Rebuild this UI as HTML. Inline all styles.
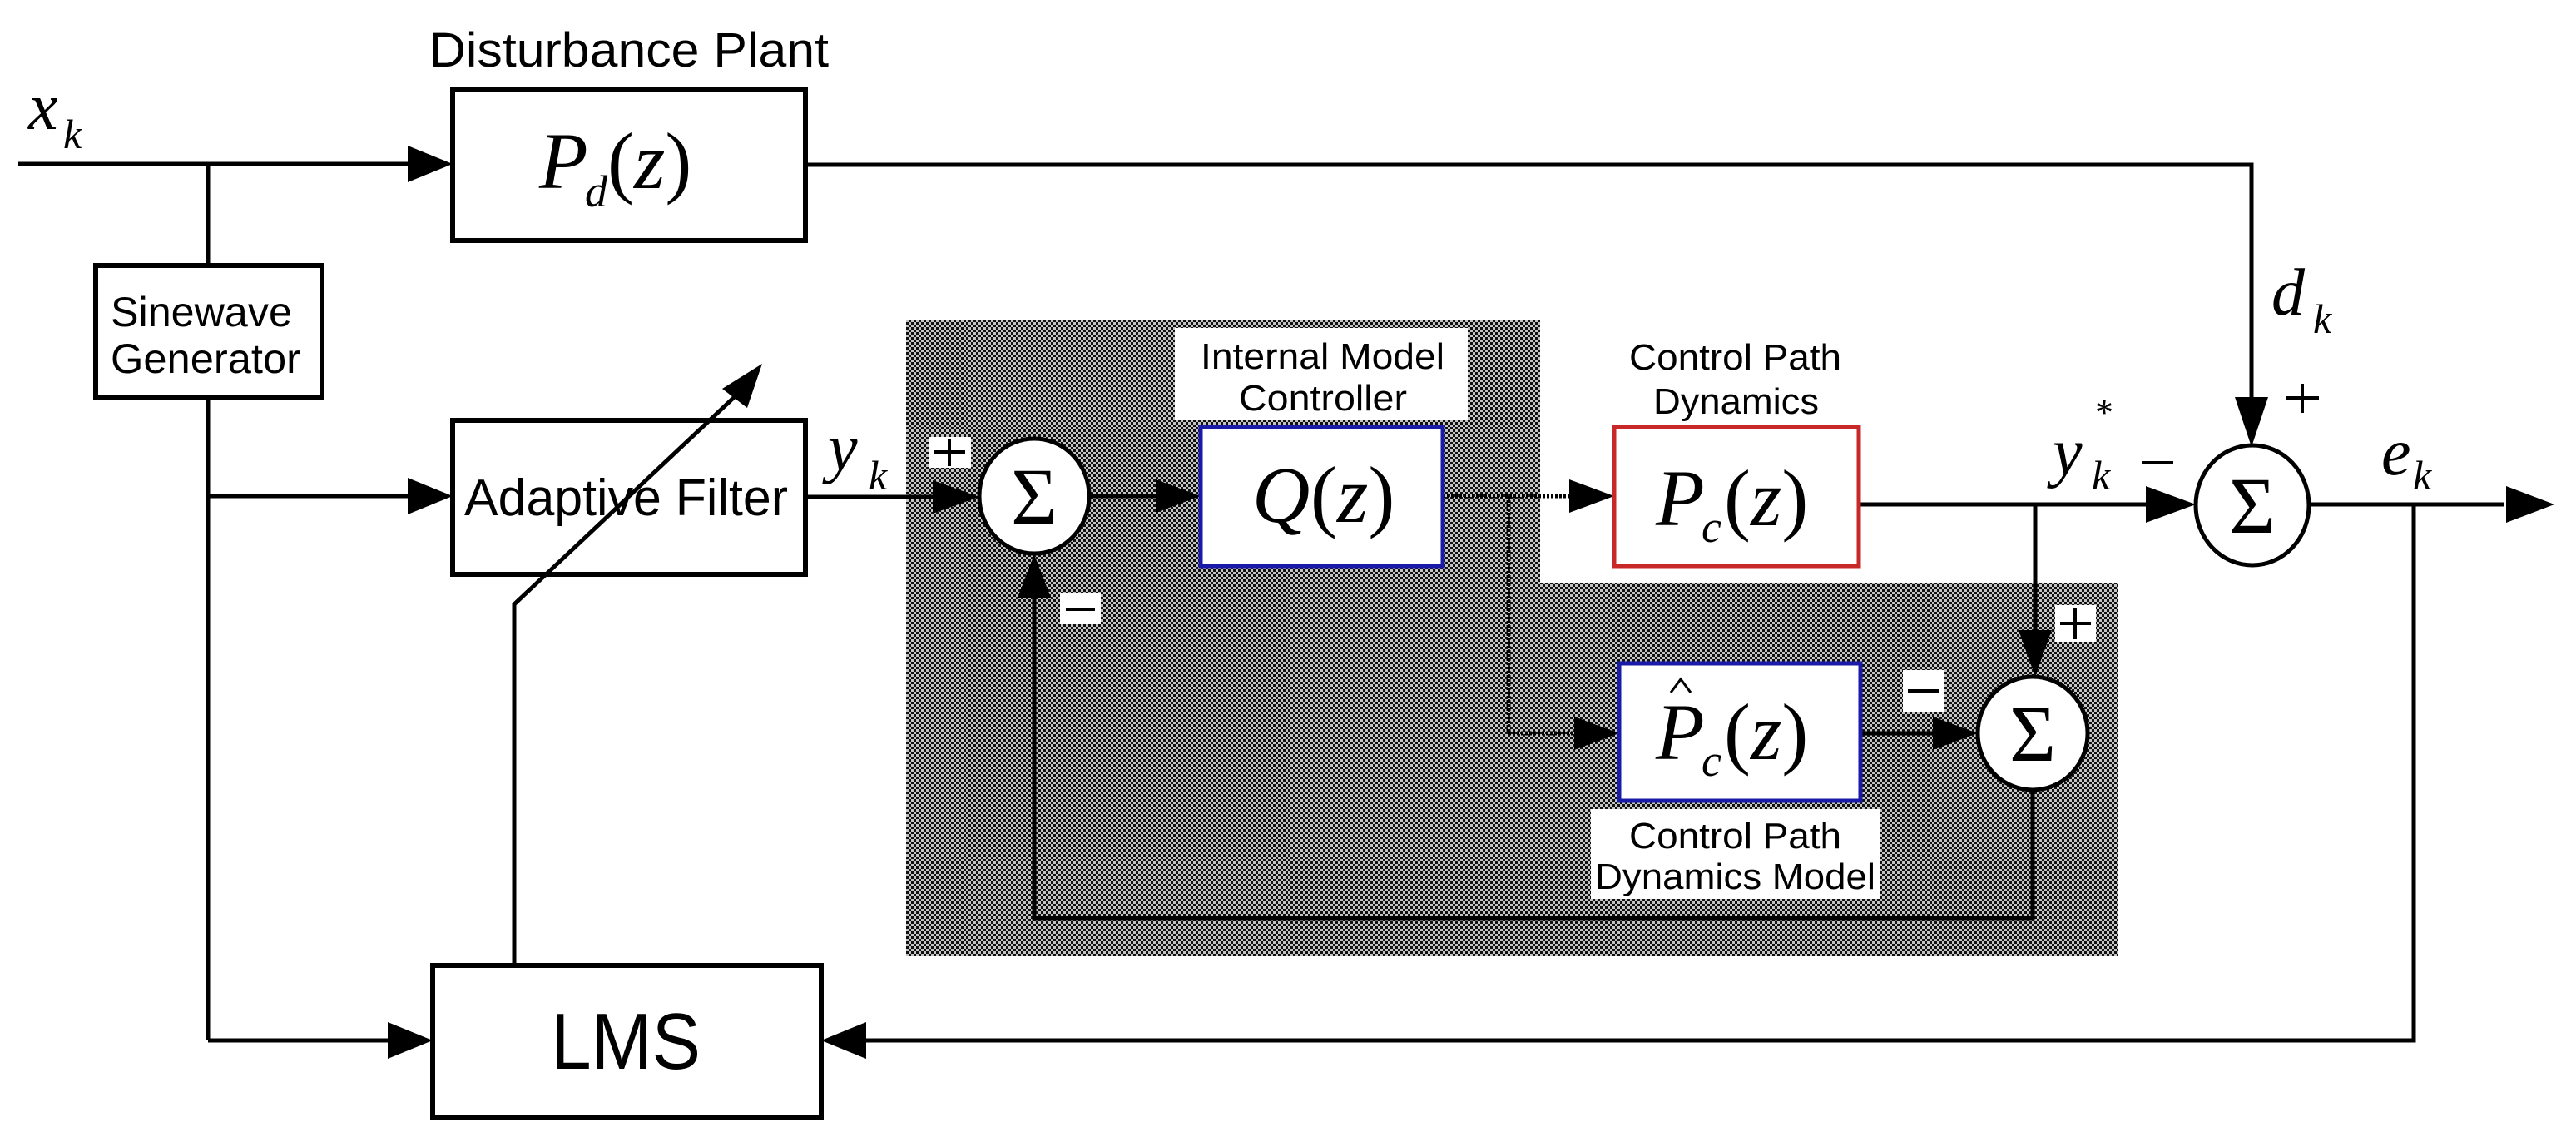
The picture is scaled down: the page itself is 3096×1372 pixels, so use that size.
<!DOCTYPE html>
<html><head><meta charset="utf-8"><style>
html,body{margin:0;padding:0;background:#fff}
svg{display:block}
.s{font-family:"Liberation Sans",sans-serif}
.m{font-family:"Liberation Serif",serif;font-style:italic}
.r{font-family:"Liberation Serif",serif}
</style></head><body>
<svg width="3096" height="1372" viewBox="0 0 3096 1372" xmlns="http://www.w3.org/2000/svg">
<defs>
<pattern id="ck" width="6" height="6" patternUnits="userSpaceOnUse">
<rect width="6" height="6" fill="#c4c4c4"/>
<rect width="3" height="3" fill="#111"/>
<rect x="3" y="3" width="3" height="3" fill="#111"/>
</pattern>
</defs>
<polygon points="1089,384 1851,384 1851,700 2545,700 2545,1148 1089,1148" fill="url(#ck)"/>

<g stroke="#000" stroke-width="5" fill="none">
<line x1="22" y1="197" x2="500" y2="197"/>
<line x1="250" y1="197" x2="250" y2="318"/>
<line x1="250" y1="478" x2="250" y2="1250"/>
<line x1="250" y1="596" x2="500" y2="596"/>
<line x1="250" y1="1250" x2="470" y2="1250"/>
<polyline points="968,198 2706,198 2706,480"/>
<line x1="968" y1="597" x2="1125" y2="597"/>
<line x1="1309" y1="596" x2="1395" y2="596"/>
<line x1="1734" y1="596" x2="1890" y2="596" stroke-dasharray="3 2"/>
<polyline points="1813,596 1813,881 1895,881" stroke-dasharray="3 2"/>
<line x1="2234" y1="606" x2="2585" y2="606"/>
<line x1="2446" y1="606" x2="2446" y2="760"/>
<line x1="2236" y1="881" x2="2325" y2="881"/>
<polyline points="2443,949 2443,1103 1243,1103 1243,715"/>
<line x1="2777" y1="606" x2="3010" y2="606"/>
<polyline points="2901,606 2901,1250 1040,1250"/>
<polyline points="618,1159 618,726 890,470"/>
</g>
<g fill="#000">
<polygon points="544,197 490,175 490,219"/>
<polygon points="544,596 490,574 490,618"/>
<polygon points="520,1250 466,1228 466,1272"/>
<polygon points="987,1250 1041,1228 1041,1272"/>
<polygon points="1177,597 1121,577 1121,617"/>
<polygon points="1443,596 1389,576 1389,616"/>
<polygon points="1940,596 1886,576 1886,616"/>
<polygon points="1946,881 1892,861 1892,901"/>
<polygon points="2377,881 2323,861 2323,901"/>
<polygon points="2639,606 2579,584 2579,628"/>
<polygon points="3070,606 3012,584 3012,628"/>
<polygon points="2706,537 2686,477 2726,477"/>
<polygon points="2446,813 2426,757 2466,757"/>
<polygon points="1243,666 1223,718 1263,718"/>
<polygon points="916,437 868,467 898,490"/>
</g>
<g stroke="#000" stroke-width="6" fill="#fff">
<rect x="544" y="107" width="424" height="182"/>
<rect x="115" y="319" width="272" height="159"/>
<rect x="544" y="505" width="424" height="185" fill="none"/>
<rect x="520" y="1160" width="467" height="183"/>
</g>
<rect x="1443" y="513" width="291" height="167" fill="#fff" stroke="#1a1aa8" stroke-width="5"/>
<rect x="1940" y="513" width="294" height="167" fill="#fff" stroke="#c82828" stroke-width="5"/>
<rect x="1946" y="797" width="290" height="165" fill="#fff" stroke="#1a1aa8" stroke-width="5"/>
<rect x="1412" y="394" width="352" height="110" fill="#fff"/>
<rect x="1912" y="972" width="347" height="108" fill="#fff"/>
<rect x="1116" y="525" width="51" height="37" fill="#fff"/>
<rect x="1274" y="713" width="49" height="37" fill="#fff"/>
<rect x="2287" y="805" width="49" height="50" fill="#fff"/>
<rect x="2470" y="727" width="49" height="44" fill="#fff"/>
<g stroke="#000" stroke-width="5" fill="#fff">
<ellipse cx="1243" cy="596" rx="66" ry="69"/>
<ellipse cx="2443" cy="881" rx="66" ry="68"/>
<ellipse cx="2707" cy="607" rx="68" ry="72"/>
</g>
<g class="r" font-size="96" text-anchor="middle">
<text x="1243" y="629">Σ</text>
<text x="2443" y="914">Σ</text>
<text x="2707" y="640">Σ</text>
</g>
<g stroke="#000" stroke-width="4" fill="none">
<line x1="1123" y1="543" x2="1160" y2="543"/><line x1="1141" y1="528" x2="1141" y2="560"/>
<line x1="1281" y1="732" x2="1316" y2="732"/>
<line x1="2293" y1="830" x2="2330" y2="830"/>
<line x1="2476" y1="749" x2="2513" y2="749"/><line x1="2494" y1="730" x2="2494" y2="768"/>
<line x1="2747" y1="478" x2="2787" y2="478"/><line x1="2767" y1="461" x2="2767" y2="496"/>
<line x1="2574" y1="556" x2="2612" y2="556"/>
<polyline points="2008,832 2020,816 2032,832" stroke-width="3"/>
</g>
<g class="s" fill="#000" lengthAdjust="spacingAndGlyphs">
<text x="516" y="80" font-size="58" textLength="480" lengthAdjust="spacingAndGlyphs">Disturbance Plant</text>
<text x="133" y="392" font-size="50" textLength="218" lengthAdjust="spacingAndGlyphs">Sinewave</text>
<text x="133" y="448" font-size="50" textLength="228" lengthAdjust="spacingAndGlyphs">Generator</text>
<text x="558" y="619" font-size="62" textLength="389" lengthAdjust="spacingAndGlyphs">Adaptive Filter</text>
<text x="662" y="1284" font-size="96" textLength="180" lengthAdjust="spacingAndGlyphs">LMS</text>
<text x="1443" y="443" font-size="44" textLength="293" lengthAdjust="spacingAndGlyphs">Internal Model</text>
<text x="1489" y="493" font-size="44" textLength="202" lengthAdjust="spacingAndGlyphs">Controller</text>
<text x="1958" y="444" font-size="44" textLength="255" lengthAdjust="spacingAndGlyphs">Control Path</text>
<text x="1987" y="497" font-size="44" textLength="199" lengthAdjust="spacingAndGlyphs">Dynamics</text>
<text x="1958" y="1019" font-size="44" textLength="255" lengthAdjust="spacingAndGlyphs">Control Path</text>
<text x="1917" y="1068" font-size="44" textLength="337" lengthAdjust="spacingAndGlyphs">Dynamics Model</text>
</g>
<g fill="#000">
<text x="34" y="155" class="m" font-size="80">x</text><text x="76" y="178" class="m" font-size="50">k</text>
<text x="648" y="226" class="m" font-size="96">P</text><text x="703" y="248" class="m" font-size="54">d</text><text x="730" y="226" class="r" font-size="96">(<tspan class="m">z</tspan>)</text>
<text x="995" y="565" class="m" font-size="80">y</text><text x="1044" y="588" class="m" font-size="50">k</text>
<text x="1505" y="627" class="m" font-size="96">Q</text><text x="1575" y="627" class="r" font-size="96">(<tspan class="m">z</tspan>)</text>
<text x="1990" y="631" class="m" font-size="96">P</text><text x="2045" y="651" class="m" font-size="54">c</text><text x="2072" y="631" class="r" font-size="96">(<tspan class="m">z</tspan>)</text>
<text x="1990" y="912" class="m" font-size="96">P</text><text x="2045" y="932" class="m" font-size="54">c</text><text x="2072" y="912" class="r" font-size="96">(<tspan class="m">z</tspan>)</text>
<text x="2467" y="570" class="m" font-size="80">y</text><text x="2514" y="588" class="m" font-size="50">k</text><text x="2518" y="510" class="r" font-size="44">*</text>
<text x="2730" y="378" class="m" font-size="80">d</text><text x="2780" y="400" class="m" font-size="50">k</text>
<text x="2862" y="570" class="m" font-size="80">e</text><text x="2900" y="588" class="m" font-size="50">k</text>
</g>
</svg>
</body></html>
